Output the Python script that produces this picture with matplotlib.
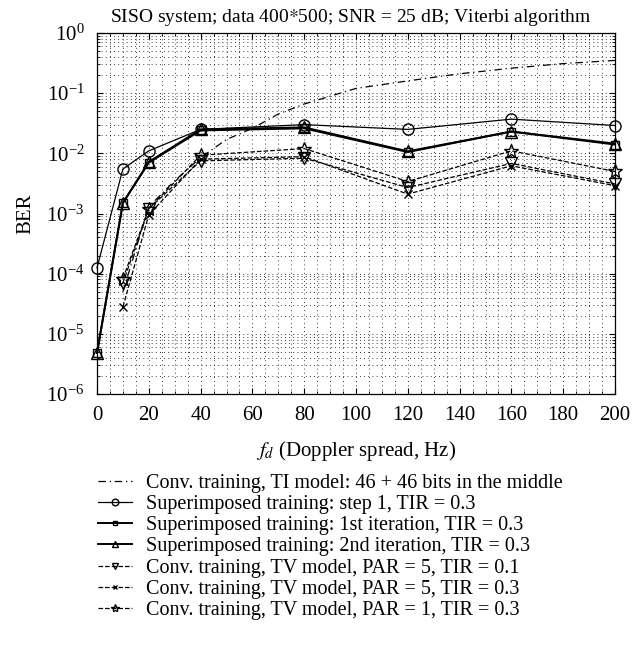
import matplotlib
matplotlib.use('Agg')
import matplotlib.pyplot as plt
from matplotlib.ticker import LogLocator, MultipleLocator, NullFormatter

plt.rcParams['font.family'] = ['Liberation Serif', 'DejaVu Serif']
plt.rcParams['mathtext.fontset'] = 'stix'

# Doppler spread (Hz)
fd_ti = [10, 20, 30, 40, 50, 60, 70, 80, 100, 120, 140, 160, 180, 200]
fd_sup = [0, 10, 20, 40, 80, 120, 160, 200]
fd_tv = [10, 20, 40, 80, 120, 160, 200]

# BER values
ber_ti = [5e-5, 1.3e-3, 3.5e-3, 8.5e-3, 0.017, 0.026, 0.045, 0.066,
          0.12, 0.16, 0.21, 0.26, 0.31, 0.35]
ber_step1 = [1.25e-4, 5.5e-3, 0.011, 0.025, 0.030, 0.025, 0.037, 0.029]
ber_iter1 = [4.8e-6, 1.5e-3, 7.0e-3, 0.024, 0.026, 0.0105, 0.023, 0.014]
ber_iter2 = [4.8e-6, 1.5e-3, 7.2e-3, 0.025, 0.027, 0.0108, 0.023, 0.0145]
ber_par5_tir01 = [7e-5, 1.2e-3, 7.5e-3, 8.3e-3, 2.7e-3, 6.8e-3, 3.1e-3]
ber_par5_tir03 = [2.8e-5, 9.5e-4, 8.0e-3, 8.8e-3, 2.1e-3, 6.2e-3, 2.9e-3]
ber_par1_tir03 = [8.3e-5, 1.2e-3, 9.3e-3, 0.012, 3.4e-3, 0.011, 5.0e-3]

labels = [
    'Conv. training, TI model: 46 + 46 bits in the middle',
    'Superimposed training: step 1, TIR = 0.3',
    'Superimposed training: 1st iteration, TIR = 0.3',
    'Superimposed training: 2nd iteration, TIR = 0.3',
    'Conv. training, TV model, PAR = 5, TIR = 0.1',
    'Conv. training, TV model, PAR = 5, TIR = 0.3',
    'Conv. training, TV model, PAR = 1, TIR = 0.3',
]

fig = plt.figure(figsize=(6.32, 6.46), dpi=100)
ax = fig.add_axes([97 / 632, 1 - 394 / 646, 518 / 632, 361 / 646])

k = 'black'
h = []
h += ax.semilogy(fd_ti, ber_ti, color=k, lw=0.9, ls=(0, (6, 3, 1, 3)))
h += ax.semilogy(fd_sup, ber_step1, color=k, lw=0.9, marker='o', ms=8, mfc='none')
h += ax.semilogy(fd_sup, ber_iter1, color=k, lw=1.4, marker='s', ms=6, mfc='none')
h += ax.semilogy(fd_sup, ber_iter2, color=k, lw=1.4, marker='^', ms=8, mfc='none')
h += ax.semilogy(fd_tv, ber_par5_tir01, color=k, lw=0.9, ls='--', marker='v', ms=8, mfc='none')
h += ax.semilogy(fd_tv, ber_par5_tir03, color=k, lw=0.9, ls='--', marker='x', ms=6)
h += ax.semilogy(fd_tv, ber_par1_tir03, color=k, lw=0.9, ls='--', marker='*', ms=10, mfc='none')
for line in h:
    line.set_clip_on(False)

ax.set_xlim(0, 200)
ax.set_ylim(1e-6, 1)
ax.xaxis.set_major_locator(MultipleLocator(20))
ax.xaxis.set_minor_locator(MultipleLocator(5))
ax.yaxis.set_major_locator(LogLocator(base=10, numticks=10))
ax.yaxis.set_minor_locator(LogLocator(base=10, subs=range(2, 10), numticks=20))
ax.yaxis.set_minor_formatter(NullFormatter())
ax.grid(True, which='both', ls=(0, (1, 4)), color=k, lw=0.6)
ax.tick_params(which='both', direction='in', top=True, right=True, labelsize=15)
ax.tick_params(which='major', length=4)
ax.tick_params(which='minor', length=2)
ax.tick_params(axis='y', which='major', pad=9)
ax.tick_params(axis='x', which='major', pad=9)
for s in ax.spines.values():
    s.set_linewidth(0.9)

ax.set_title('SISO system; data 400$*$500; SNR = 25 dB; Viterbi algorithm',
             fontsize=14, pad=8, x=0.49)
ax.set_xlabel(r'$f_d$ (Doppler spread, Hz)', fontsize=15, labelpad=10)
ax.set_ylabel('BER', fontsize=15, labelpad=8)

fig.legend(h, labels, loc='upper left', bbox_to_anchor=(90 / 632, 1 - 466 / 646),
           frameon=False, fontsize=14.5, handlelength=1.7, markerscale=0.6,
           labelspacing=0.1, handletextpad=0.7, borderaxespad=0)

fig.savefig('out.png', dpi=100)
